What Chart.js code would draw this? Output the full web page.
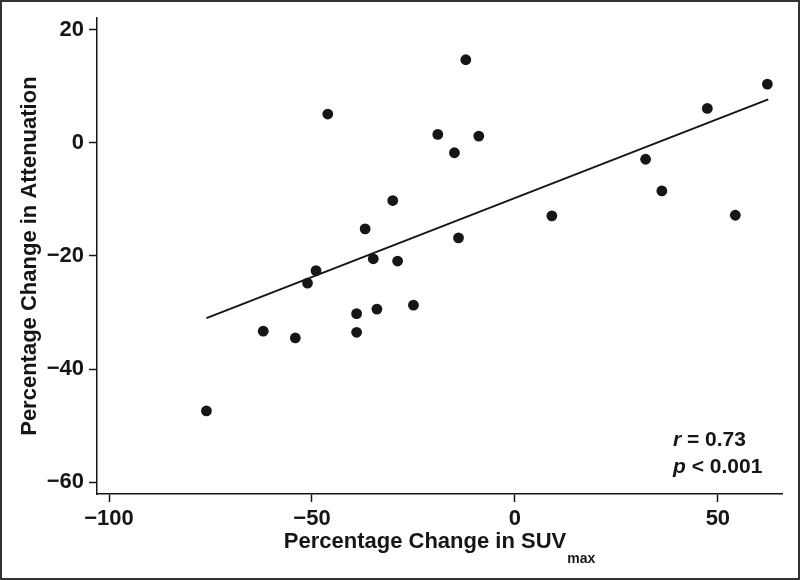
<!DOCTYPE html>
<html>
<head>
<meta charset="utf-8">
<title>SUVmax vs Attenuation</title>
<script src="https://cdn.jsdelivr.net/npm/chart.js@4.4.1/dist/chart.umd.min.js"></script>
<style>
    html, body { margin: 0; padding: 0; background: #ffffff; }
    #wrap { width: 800px; height: 580px; }
</style>
</head>
<body>
<div id="wrap"><canvas id="scatterChart" width="800" height="580"></canvas></div>
<script>
const suvChange = [-76.0, -62.0, -54.1, -51.1, -49.0, -46.1, -39.0, -39.0, -36.9, -34.9, -34.0, -30.1, -28.9, -25.0, -19.0, -14.9, -13.9, -12.1, -8.9, 9.1, 32.2, 36.2, 47.4, 54.3, 62.2];
const attenuationChange = [-47.4, -33.3, -34.5, -24.8, -22.6, 5.1, -30.2, -33.5, -15.2, -20.5, -29.4, -10.2, -20.9, -28.7, 1.5, -1.75, -16.8, 14.7, 1.2, -12.9, -2.9, -8.5, 6.1, -12.8, 10.4];
const fitX = [-76.0, 62.4];
const fitY = [-31.0, 7.7];
const xTicks = [-100, -50, 0, 50];
const yTicks = [-60, -40, -20, 0, 20];
const statLines = [["r", " = 0.73"], ["p", " < 0.001"]];

const ink = "#161616";
const fontFamily = "'Liberation Sans', Arial, Helvetica, sans-serif";

function formatTick(value) {
    return value < 0 ? "\u2212" + Math.abs(value) : String(value);
}

// x title with subscript, stats text and the outer frame
const extrasPlugin = {
    id: "extras",
    afterDraw(chart) {
        const ctx = chart.ctx;
        const area = chart.chartArea;
        ctx.save();
        ctx.fillStyle = ink;
        ctx.textBaseline = "alphabetic";

        const mainText = "Percentage Change in SUV";
        const subText = "max";
        ctx.font = "bold 22px " + fontFamily;
        const mainWidth = ctx.measureText(mainText).width;
        ctx.font = "bold 14px " + fontFamily;
        const subWidth = ctx.measureText(subText).width;
        const startX = (area.left + area.right) / 2 - (mainWidth + subWidth + 1) / 2;
        ctx.font = "bold 22px " + fontFamily;
        ctx.textAlign = "left";
        ctx.fillText(mainText, startX, 548);
        ctx.font = "bold 14px " + fontFamily;
        ctx.fillText(subText, startX + mainWidth + 1, 563);

        let y = 446;
        statLines.forEach(line => {
            ctx.font = "italic bold 21px " + fontFamily;
            ctx.fillText(line[0], 673, y);
            const w = ctx.measureText(line[0]).width;
            ctx.font = "bold 21px " + fontFamily;
            ctx.fillText(line[1], 673 + w, y);
            y += 27;
        });

        ctx.strokeStyle = "#333333";
        ctx.lineWidth = 2;
        ctx.strokeRect(1, 1, chart.width - 2, chart.height - 2);
        ctx.restore();
    }
};

const canvas = document.getElementById("scatterChart");

new Chart(canvas, {
    type: "scatter",
    data: {
        datasets: [
            {
                label: "Patients",
                data: suvChange.map((x, i) => ({ x: x, y: attenuationChange[i] })),
                pointRadius: 5.4,
                pointBackgroundColor: ink,
                pointBorderWidth: 0,
                showLine: false
            },
            {
                label: "Fit",
                data: fitX.map((x, i) => ({ x: x, y: fitY[i] })),
                showLine: true,
                pointRadius: 0,
                borderColor: ink,
                borderWidth: 2
            }
        ]
    },
    options: {
        responsive: false,
        animation: false,
        layout: {
            padding: { left: 0, top: 14, right: 18, bottom: 0 }
        },
        plugins: {
            legend: { display: false },
            tooltip: { enabled: false }
        },
        scales: {
            x: {
                type: "linear",
                min: -102.96,
                max: 65.8,
                afterBuildTicks: function (scale) {
                    scale.ticks = xTicks.map(v => ({ value: v }));
                },
                afterFit: function (scale) {
                    scale.height = 86;
                },
                grid: {
                    display: true,
                    drawOnChartArea: false,
                    drawTicks: true,
                    tickLength: 8,
                    tickWidth: 1.5,
                    tickColor: ink
                },
                border: { display: true, color: ink, width: 1.5 },
                ticks: {
                    color: ink,
                    padding: 4,
                    maxRotation: 0,
                    font: { family: fontFamily, size: 22, weight: "bold" },
                    callback: formatTick
                },
                title: { display: false }
            },
            y: {
                type: "linear",
                min: -62.1,
                max: 22.05,
                afterBuildTicks: function (scale) {
                    scale.ticks = yTicks.map(v => ({ value: v }));
                },
                afterFit: function (scale) {
                    scale.width = 97;
                },
                grid: {
                    display: true,
                    drawOnChartArea: false,
                    drawTicks: true,
                    tickLength: 8,
                    tickWidth: 1.5,
                    tickColor: ink
                },
                border: { display: true, color: ink, width: 1.5 },
                ticks: {
                    color: ink,
                    padding: 5,
                    font: { family: fontFamily, size: 22, weight: "bold" },
                    callback: formatTick
                },
                title: {
                    display: true,
                    text: "Percentage Change in Attenuation",
                    color: ink,
                    padding: { top: 17, bottom: 0 },
                    font: { family: fontFamily, size: 22, weight: "bold" }
                }
            }
        }
    },
    plugins: [extrasPlugin]
});
</script>
</body>
</html>
